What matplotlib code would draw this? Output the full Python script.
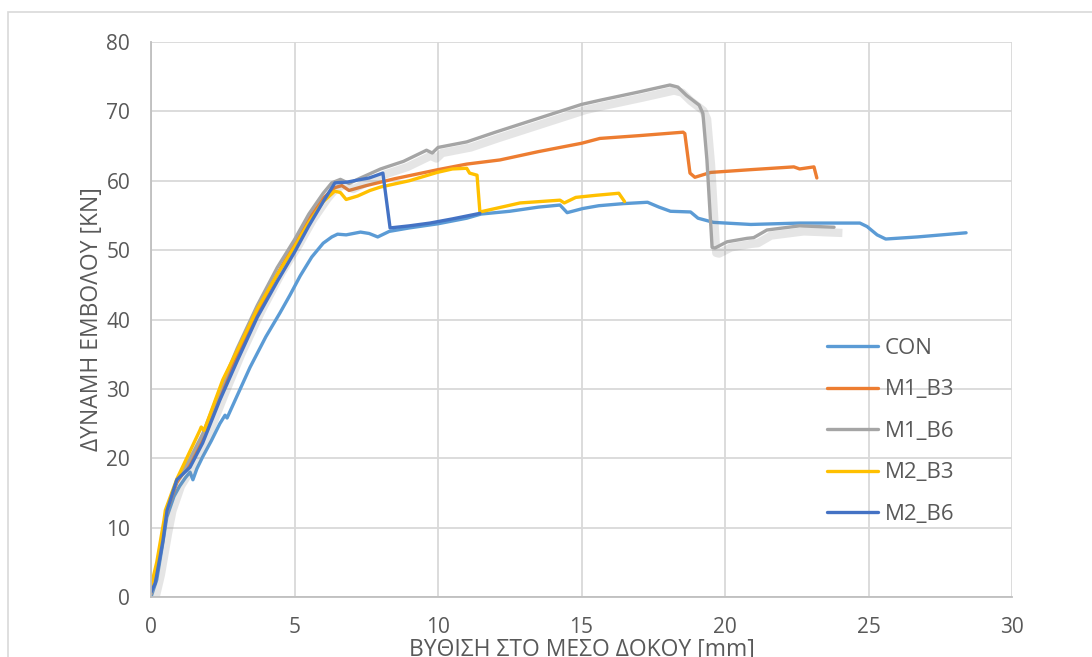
import matplotlib.pyplot as plt
import matplotlib.patheffects as pe
from matplotlib.patches import Rectangle

# load-deflection curves (x: mid-span deflection in mm, y: actuator force in kN)
con_x = [0, 0.2, 0.4, 0.55, 0.8, 1.0, 1.2, 1.36, 1.46, 1.6, 1.8, 2.1, 2.4, 2.58, 2.65, 3.0, 3.45,
         3.5, 4.0, 4.5, 4.84, 5.2, 5.6, 6.0, 6.3, 6.5, 6.8, 7.3, 7.6, 7.9, 8.3, 9.0, 10.0, 11.0,
         11.5, 12.5, 13.5, 14.25, 14.5, 15.05, 15.6, 16.45, 17.3, 17.7, 18.1, 18.8, 19.06, 19.6,
         20.9, 22.6, 24.7, 24.95, 25.3, 25.6, 26.7, 28.4]
con_y = [0, 2.5, 7.5, 11.5, 14.5, 16.0, 17.2, 18.0, 16.9, 18.5, 20.2, 22.5, 25.0, 26.2, 25.8,
         29.0, 33.1, 33.5, 37.5, 41.0, 43.5, 46.3, 49.0, 51.0, 51.9, 52.3, 52.2, 52.6, 52.4,
         51.9, 52.7, 53.2, 53.8, 54.6, 55.2, 55.6, 56.2, 56.5, 55.4, 56.0, 56.4, 56.7, 56.9,
         56.2, 55.6, 55.5, 54.6, 54.0, 53.7, 53.9, 53.9, 53.4, 52.2, 51.6, 51.9, 52.5]

m1b3_x = [0, 0.2, 0.45, 0.6, 0.9, 1.3, 1.8, 2.4, 3.0, 3.7, 4.4, 5.0, 5.5, 6.0, 6.4, 6.65, 6.9,
          7.5, 8.5, 10.0, 11.0, 12.16, 13.5, 15.0, 15.64, 17.0, 18.54, 18.6, 18.78, 18.95,
          19.5, 20.9, 22.4, 22.6, 23.1, 23.2]
m1b3_y = [0.5, 4.0, 10.0, 13.0, 16.5, 19.0, 22.8, 28.8, 34.8, 41.0, 46.5, 51.0, 54.5, 57.5,
          59.0, 59.3, 58.6, 59.3, 60.3, 61.6, 62.4, 63.0, 64.2, 65.4, 66.1, 66.5, 67.0, 66.8,
          61.1, 60.5, 61.2, 61.6, 62.0, 61.7, 62.0, 60.4]

m1b6_x = [0, 0.2, 0.45, 0.6, 0.9, 1.3, 1.8, 2.4, 3.0, 3.7, 4.4, 5.0, 5.5, 6.0, 6.3, 6.6, 6.9,
          7.3, 8.0, 8.8, 9.6, 9.8, 10.0, 11.0, 12.0, 13.5, 15.0, 15.64, 17.0, 18.08, 18.36,
          18.66, 19.1, 19.23, 19.37, 19.55, 19.65, 20.07, 20.77, 21.0, 21.46, 22.6, 23.8]
m1b6_y = [0.5, 4.0, 10.0, 13.2, 16.8, 19.5, 23.5, 29.8, 35.8, 42.0, 47.5, 51.5, 55.2, 58.2,
          59.7, 60.2, 59.6, 60.4, 61.7, 62.8, 64.4, 64.0, 64.8, 65.6, 67.0, 69.0, 71.0, 71.6,
          72.8, 73.8, 73.5, 72.3, 70.9, 69.7, 63.0, 50.4, 50.3, 51.2, 51.7, 51.8, 52.9, 53.5,
          53.3]

m2b3_x = [0, 0.2, 0.45, 0.5, 0.9, 1.3, 1.7, 1.75, 1.85, 2.5, 3.0, 3.7, 4.4, 5.0, 5.5, 6.0, 6.4,
          6.6, 6.8, 7.2, 7.63, 8.0, 9.0, 9.97, 10.5, 11.0, 11.1, 11.36, 11.46, 12.0, 12.86,
          14.25, 14.4, 14.8, 15.5, 16.3, 16.5]
m2b3_y = [1.5, 5.0, 11.0, 12.5, 17.0, 20.5, 24.0, 24.5, 24.0, 31.3, 35.5, 41.5, 46.5, 50.5,
          54.0, 57.0, 58.5, 58.3, 57.3, 57.8, 58.6, 59.1, 60.0, 61.2, 61.7, 61.8, 61.1, 60.8,
          55.5, 56.0, 56.8, 57.2, 56.8, 57.6, 57.9, 58.2, 57.0]

m2b6_x = [0, 0.15, 0.42, 0.56, 0.9, 1.36, 1.8, 2.4, 3.0, 3.7, 4.4, 5.0, 5.5, 6.0, 6.41, 6.83,
          7.2, 7.6, 8.08, 8.33, 9.0, 9.72, 10.5, 11.46]
m2b6_y = [0.7, 2.0, 8.2, 12.5, 16.9, 18.7, 22.2, 28.4, 34.0, 40.3, 45.5, 49.7, 53.5, 57.0,
          59.7, 59.8, 60.1, 60.4, 61.1, 53.2, 53.5, 53.9, 54.5, 55.3]

series = [
    ("CON", con_x, con_y, "#5B9BD5"),
    ("M1_B3", m1b3_x, m1b3_y, "#ED7D31"),
    ("M1_B6", m1b6_x, m1b6_y, "#A5A5A5"),
    ("M2_B3", m2b3_x, m2b3_y, "#FFC000"),
    ("M2_B6", m2b6_x, m2b6_y, "#4472C4"),
]

plt.rcParams['font.family'] = ['Open Sans', 'DejaVu Sans']
txt = "#595959"
grid = "#D9D9D9"

fig = plt.figure(figsize=(10.92, 6.57), dpi=100)
ax = fig.add_axes([151 / 1092, 1 - 597 / 657, (1012 - 151) / 1092, (597 - 42) / 657])

# chart area border
fig.patches.append(Rectangle((8 / 1092, -0.1), 1.1, 1 - 12 / 657 + 0.1,
                             transform=fig.transFigure, fill=False,
                             edgecolor=grid, linewidth=1.2, zorder=0))

for name, xs, ys, col in series:
    if name == "M1_B6":
        # soft drop shadow under this series only (kept out of the legend)
        ax.plot(xs, ys, color=col, lw=2.4, solid_joinstyle="round", label="_nolegend_",
                path_effects=[pe.SimpleLineShadow(offset=(3, -4), shadow_color="#808080",
                                                  alpha=0.2, linewidth=6)])
    ax.plot(xs, ys, color=col, lw=2.4, label=name, solid_joinstyle="round",
            solid_capstyle="round")

ax.set_xlim(0, 30)
ax.set_ylim(0, 80)
ax.set_xticks(range(0, 31, 5))
ax.set_yticks(range(0, 81, 10))
ax.grid(True, color=grid, lw=1.3)
ax.set_axisbelow(True)
for s in ["top", "right"]:
    ax.spines[s].set_visible(False)
for s in ["left", "bottom"]:
    ax.spines[s].set_color("#BFBFBF")
    ax.spines[s].set_linewidth(1.3)
ax.tick_params(length=0, labelsize=15, labelcolor=txt)
ax.tick_params(axis="x", pad=14.5)
ax.tick_params(axis="y", pad=15)

ax.set_xlabel("ΒΥΘΙΣΗ ΣΤΟ ΜΕΣΟ ΔΟΚΟΥ [mm]", fontsize=16.5, color=txt, labelpad=0)
ax.set_ylabel("ΔΥΝΑΜΗ ΕΜΒΟΛΟΥ [KN]", fontsize=16.5, color=txt, labelpad=2)

leg = ax.legend(loc="upper left", bbox_to_anchor=(827 / 1092, 1 - 338 / 657),
                bbox_transform=fig.transFigure, frameon=False, fontsize=16,
                labelspacing=0.92, handlelength=2.3, handletextpad=0.3,
                borderpad=0, borderaxespad=0)
for t in leg.get_texts():
    t.set_color(txt)

fig.savefig("out.png", dpi=100)
